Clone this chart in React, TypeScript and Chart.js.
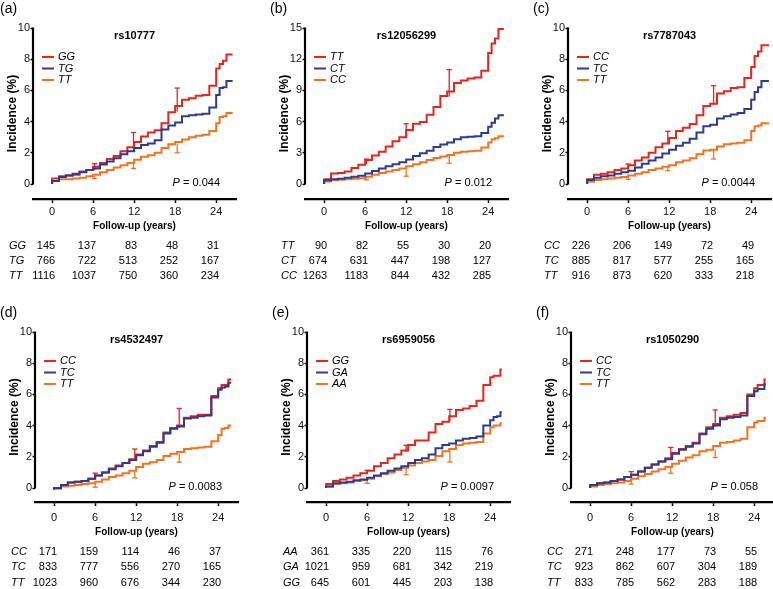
import React, { useEffect, useRef } from 'react';
import { Chart, registerables } from 'chart.js';

Chart.register(...registerables);

const FONT = "'Liberation Sans', Arial, Helvetica, sans-serif";
const RED = '#e3261f';
const BLUE = '#2d3b90';
const ORANGE = '#f5731f';

// Follow-up grid (years); each curve has one value per entry plus a final value at the panel's end year
const YEARS = [0, 1, 2, 3, 4, 5, 6, 7, 8, 9, 10, 11, 12, 13, 14, 15, 16, 17, 18, 19, 20, 21, 22, 23, 24, 24.5, 25, 25.5];
const X_TICKS = [0, 6, 12, 18, 24];
const Y_TICKS_10 = [0, 2, 4, 6, 8, 10];
const Y_TICKS_15 = [0, 3, 6, 9, 12, 15];
const END_YEARS = [26.4, 26.3, 26.6, 25.9, 25.7, 25.7];

// (a) rs10777
const A_GG = [0, 0.35, 0.5, 0.55, 0.6, 0.8, 0.9, 1.1, 1.35, 1.6, 1.8, 2.1, 2.35, 2.7, 3.05, 3.3, 3.45, 3.9, 4.6, 5.0, 5.4, 5.5, 5.65, 5.7, 6.3, 7.4, 7.7, 7.9, 8.3];
const A_TG = [0, 0.2, 0.45, 0.55, 0.65, 0.75, 0.9, 1.0, 1.25, 1.45, 1.65, 1.9, 2.1, 2.3, 2.5, 2.6, 2.8, 3.5, 3.75, 3.95, 4.35, 4.4, 4.45, 4.5, 4.9, 5.7, 6.15, 6.2, 6.6];
const A_TT = [0, 0.2, 0.3, 0.3, 0.35, 0.4, 0.5, 0.6, 0.75, 0.9, 1.05, 1.2, 1.35, 1.55, 1.75, 1.85, 2.0, 2.3, 2.55, 2.7, 2.85, 3.0, 3.1, 3.15, 3.4, 3.9, 4.3, 4.35, 4.55];
const A_UPPER = [[6.2, 0.9, 1.3], [11.9, 2.35, 3.3], [18.3, 4.65, 6.15]];
const A_LOWER = [[6.2, 0.5, 0.35], [11.9, 1.35, 1.0], [18.3, 2.55, 2.0]];
const A_RISK_GG = [145, 137, 83, 48, 31];
const A_RISK_TG = [766, 722, 513, 252, 167];
const A_RISK_TT = [1116, 1037, 750, 360, 234];

// (b) rs12056299
const B_TT = [0, 0.45, 1.0, 1.05, 1.2, 1.55, 1.85, 2.3, 2.75, 3.1, 3.6, 4.1, 4.5, 5.2, 5.8, 5.95, 6.65, 7.4, 8.45, 8.9, 9.7, 9.95, 10.15, 10.25, 10.9, 12.6, 13.5, 14.0, 14.9];
const B_CT = [0, 0.35, 0.45, 0.5, 0.6, 0.7, 0.8, 1.0, 1.25, 1.5, 1.7, 1.9, 2.1, 2.35, 2.7, 2.95, 3.2, 3.55, 3.8, 4.0, 4.3, 4.5, 4.55, 4.6, 4.9, 5.5, 5.9, 6.3, 6.6];
const B_CC = [0, 0.25, 0.35, 0.4, 0.45, 0.5, 0.55, 0.7, 0.9, 1.05, 1.2, 1.35, 1.5, 1.7, 1.9, 2.1, 2.3, 2.5, 2.65, 2.8, 3.0, 3.1, 3.15, 3.2, 3.5, 4.0, 4.3, 4.4, 4.6];
const B_UPPER = [[6.2, 1.9, 2.4], [12, 4.4, 5.8], [18.3, 8.4, 11.0]];
const B_LOWER = [[6.2, 0.55, 0.4], [12, 1.4, 0.75], [18.3, 2.7, 2.0]];
const B_RISK_TT = [90, 82, 55, 30, 20];
const B_RISK_CT = [674, 631, 447, 198, 127];
const B_RISK_CC = [1263, 1183, 844, 432, 285];

// (c) rs7787043
const C_CC = [0, 0.3, 0.6, 0.65, 0.75, 0.9, 1.0, 1.2, 1.5, 1.7, 2.0, 2.35, 2.6, 2.95, 3.4, 3.6, 3.85, 4.4, 5.0, 5.15, 5.8, 5.95, 6.15, 6.2, 6.8, 7.5, 8.2, 8.5, 8.9];
const C_TC = [0, 0.25, 0.4, 0.5, 0.55, 0.65, 0.75, 0.85, 1.05, 1.3, 1.5, 1.7, 1.95, 2.2, 2.45, 2.65, 2.9, 3.3, 3.7, 3.8, 4.2, 4.35, 4.45, 4.55, 4.8, 5.4, 5.9, 6.2, 6.6];
const C_TT = [0, 0.15, 0.25, 0.3, 0.35, 0.4, 0.45, 0.55, 0.65, 0.75, 0.9, 1.0, 1.1, 1.2, 1.4, 1.5, 1.65, 1.9, 2.15, 2.2, 2.4, 2.55, 2.6, 2.65, 2.8, 3.4, 3.7, 3.75, 3.9];
const C_UPPER = [[6.0, 1.0, 1.28], [11.8, 2.6, 3.38], [18.5, 5.05, 6.3]];
const C_LOWER = [[6.0, 0.45, 0.3], [11.8, 1.1, 0.85], [18.5, 2.15, 1.6]];
const C_RISK_CC = [226, 206, 149, 72, 49];
const C_RISK_TC = [885, 817, 577, 255, 165];
const C_RISK_TT = [916, 873, 620, 333, 218];

// (d) rs4532497
const D_CC = [-0.1, 0.0, 0.2, 0.35, 0.4, 0.45, 0.6, 0.8, 1.0, 1.25, 1.45, 1.6, 1.85, 2.15, 2.4, 2.7, 2.95, 3.55, 3.85, 4.0, 4.5, 4.6, 4.7, 4.7, 5.9, 6.4, 6.6, 6.6, 6.95];
const D_TC = [-0.1, 0.0, 0.2, 0.35, 0.4, 0.45, 0.6, 0.8, 1.0, 1.2, 1.4, 1.6, 1.8, 2.1, 2.35, 2.65, 2.9, 3.5, 3.8, 3.95, 4.45, 4.5, 4.6, 4.65, 5.8, 6.3, 6.45, 6.5, 6.75];
const D_TT = [-0.1, -0.05, 0.1, 0.15, 0.2, 0.25, 0.3, 0.4, 0.55, 0.7, 0.8, 0.95, 1.1, 1.35, 1.55, 1.65, 1.8, 2.05, 2.2, 2.3, 2.5, 2.55, 2.6, 2.65, 3.0, 3.4, 3.8, 3.85, 4.0];
const D_UPPER = [[6.0, 0.6, 0.95], [11.8, 1.85, 2.5], [18.3, 3.85, 5.1]];
const D_LOWER = [[6.0, 0.3, 0.05], [11.8, 1.05, 0.65], [18.3, 2.2, 1.65]];
const D_RISK_CC = [171, 159, 114, 46, 37];
const D_RISK_TC = [833, 777, 556, 270, 165];
const D_RISK_TT = [1023, 960, 676, 344, 230];

// (e) rs6959056
const E_GG = [0, 0.25, 0.45, 0.55, 0.65, 0.8, 0.95, 1.1, 1.4, 1.6, 1.9, 2.15, 2.4, 2.75, 3.05, 3.05, 3.55, 4.1, 4.25, 4.6, 5.0, 5.1, 5.25, 5.6, 6.6, 7.1, 7.2, 7.2, 7.6];
const E_GA = [0, 0.1, 0.3, 0.35, 0.4, 0.5, 0.55, 0.65, 0.8, 0.95, 1.1, 1.25, 1.4, 1.6, 1.8, 1.9, 2.15, 2.55, 2.75, 2.85, 3.05, 3.15, 3.2, 3.3, 4.0, 4.35, 4.55, 4.6, 4.85];
const E_AA = [0, 0.1, 0.25, 0.3, 0.35, 0.45, 0.5, 0.6, 0.75, 0.9, 1.0, 1.15, 1.3, 1.45, 1.6, 1.7, 1.8, 2.05, 2.35, 2.5, 2.75, 2.85, 2.9, 2.95, 3.5, 3.9, 4.0, 4.0, 4.15];
const E_UPPER = [[6.0, 0.95, 1.13], [11.7, 2.3, 2.74], [18.1, 4.3, 5.04]];
const E_LOWER = [[6.0, 0.5, 0.3], [11.7, 1.3, 0.85], [18.1, 2.35, 1.67]];
const E_RISK_AA = [361, 335, 220, 115, 76];
const E_RISK_GA = [1021, 959, 681, 342, 219];
const E_RISK_GG = [645, 601, 445, 203, 138];

// (f) rs1050290
const F_CC = [0, 0.2, 0.3, 0.35, 0.45, 0.55, 0.7, 0.85, 1.05, 1.3, 1.5, 1.7, 1.9, 2.25, 2.5, 2.7, 2.9, 3.5, 3.9, 4.1, 4.5, 4.6, 4.7, 4.8, 6.0, 6.4, 6.6, 6.6, 6.95];
const F_TC = [0, 0.2, 0.3, 0.35, 0.45, 0.55, 0.7, 0.85, 1.05, 1.3, 1.5, 1.7, 1.85, 2.2, 2.45, 2.65, 2.85, 3.45, 3.8, 4.0, 4.4, 4.5, 4.55, 4.65, 5.9, 6.2, 6.35, 6.35, 6.65];
const F_TT = [0, 0.1, 0.2, 0.25, 0.3, 0.35, 0.45, 0.6, 0.75, 0.9, 1.05, 1.2, 1.35, 1.55, 1.75, 1.95, 2.1, 2.35, 2.45, 2.7, 2.9, 2.95, 3.05, 3.15, 3.9, 4.2, 4.3, 4.3, 4.5];
const F_UPPER = [[6.0, 0.7, 1.05], [11.8, 1.9, 2.6], [18.3, 3.95, 5.0]];
const F_LOWER = [[6.0, 0.45, 0.25], [11.8, 1.35, 0.95], [18.3, 2.45, 1.95]];
const F_RISK_CC = [271, 248, 177, 73, 55];
const F_RISK_TC = [923, 862, 607, 304, 189];
const F_RISK_TT = [833, 785, 562, 283, 188];

type Row = { top: number; height: number; gap: number; xHeight: number; tickPad: number; table: number[] };
const ROWS: Row[] = [
  { top: 0, height: 290, gap: 15, xHeight: 33, tickPad: 2.4, table: [47, 62, 76.5] },
  { top: 304, height: 285, gap: 14, xHeight: 36, tickPad: 5.4, table: [49.5, 65, 80.5] },
];

type Panel = {
  tag: string; tagX: number; title: string; names: string[]; curves: number[][]; end: number;
  upper: number[][]; lower: number[][]; riskNames: string[]; risk: number[][]; p: string;
  yTicks: number[]; axisX: number; row: number;
};

const PANELS: Panel[] = [
  { tag: '(a)', tagX: 0, title: 'rs10777', names: ['GG', 'TG', 'TT'], curves: [A_GG, A_TG, A_TT], end: END_YEARS[0], upper: A_UPPER, lower: A_LOWER, riskNames: ['GG', 'TG', 'TT'], risk: [A_RISK_GG, A_RISK_TG, A_RISK_TT], p: '0.044', yTicks: Y_TICKS_10, axisX: 33, row: 0 },
  { tag: '(b)', tagX: 270, title: 'rs12056299', names: ['TT', 'CT', 'CC'], curves: [B_TT, B_CT, B_CC], end: END_YEARS[1], upper: B_UPPER, lower: B_LOWER, riskNames: ['TT', 'CT', 'CC'], risk: [B_RISK_TT, B_RISK_CT, B_RISK_CC], p: '0.012', yTicks: Y_TICKS_15, axisX: 305, row: 0 },
  { tag: '(c)', tagX: 533, title: 'rs7787043', names: ['CC', 'TC', 'TT'], curves: [C_CC, C_TC, C_TT], end: END_YEARS[2], upper: C_UPPER, lower: C_LOWER, riskNames: ['CC', 'TC', 'TT'], risk: [C_RISK_CC, C_RISK_TC, C_RISK_TT], p: '0.0044', yTicks: Y_TICKS_10, axisX: 568, row: 0 },
  { tag: '(d)', tagX: 0, title: 'rs4532497', names: ['CC', 'TC', 'TT'], curves: [D_CC, D_TC, D_TT], end: END_YEARS[3], upper: D_UPPER, lower: D_LOWER, riskNames: ['CC', 'TC', 'TT'], risk: [D_RISK_CC, D_RISK_TC, D_RISK_TT], p: '0.0083', yTicks: Y_TICKS_10, axisX: 35, row: 1 },
  { tag: '(e)', tagX: 272, title: 'rs6959056', names: ['GG', 'GA', 'AA'], curves: [E_GG, E_GA, E_AA], end: END_YEARS[4], upper: E_UPPER, lower: E_LOWER, riskNames: ['AA', 'GA', 'GG'], risk: [E_RISK_AA, E_RISK_GA, E_RISK_GG], p: '0.0097', yTicks: Y_TICKS_10, axisX: 307, row: 1 },
  { tag: '(f)', tagX: 536, title: 'rs1050290', names: ['CC', 'TC', 'TT'], curves: [F_CC, F_TC, F_TT], end: END_YEARS[5], upper: F_UPPER, lower: F_LOWER, riskNames: ['CC', 'TC', 'TT'], risk: [F_RISK_CC, F_RISK_TC, F_RISK_TT], p: '0.058', yTicks: Y_TICKS_10, axisX: 571, row: 1 },
];

const COLORS = [RED, BLUE, ORANGE];
const ORDERS = [1, 0, 2];
const Y_AXIS_W = 33;
const PLOT_W = 203;
const CANVAS_W = 255;

function errSet(x: number, from: number, to: number, color: string) {
  return {
    data: [{ x, y: from }, { x, y: to }],
    borderColor: color,
    borderWidth: 1.3,
    pointRadius: [0, 2.6],
    pointStyle: 'line',
    pointBorderColor: color,
    pointBorderWidth: 1.3,
    pointHoverRadius: 0,
    stepped: false,
    fill: false,
    order: 3,
  };
}

function overlay(p: Panel, row: Row) {
  const yMax = p.yTicks[p.yTicks.length - 1];
  return {
    id: 'overlay',
    afterDraw(chart: any) {
      const { ctx, chartArea: ca, scales } = chart;
      const xs = scales.x;
      const ys = scales.y;
      ctx.save();
      // y axis line (0 .. max)
      ctx.strokeStyle = '#000';
      ctx.lineWidth = 2.2;
      ctx.beginPath();
      ctx.moveTo(ca.left, ys.getPixelForValue(yMax) - 0.5);
      ctx.lineTo(ca.left, ys.getPixelForValue(0) + 0.5);
      ctx.stroke();

      ctx.fillStyle = '#000';
      ctx.textBaseline = 'middle';
      // title
      ctx.font = `bold 11px ${FONT}`;
      ctx.textAlign = 'center';
      ctx.fillText(p.title, (ca.left + ca.right) / 2, ca.top + 8);

      // legend
      p.names.forEach((n, i) => {
        const y = ca.top + 29 + 11.5 * i;
        ctx.strokeStyle = COLORS[i];
        ctx.lineWidth = 2;
        ctx.beginPath();
        ctx.moveTo(ca.left + 9, y);
        ctx.lineTo(ca.left + 21, y);
        ctx.stroke();
        ctx.font = `italic 11px ${FONT}`;
        ctx.textAlign = 'left';
        ctx.fillText(n, ca.left + 25, y);
      });

      // P value
      const py = ys.getPixelForValue(0) - 1;
      ctx.font = `11px ${FONT}`;
      const rest = ' = ' + p.p;
      const wRest = ctx.measureText(rest).width;
      ctx.font = `italic 11px ${FONT}`;
      const wP = ctx.measureText('P').width;
      const xr = ca.right - 16;
      ctx.textAlign = 'left';
      ctx.fillText('P', xr - wRest - wP, py);
      ctx.font = `11px ${FONT}`;
      ctx.fillText(rest, xr - wRest, py);

      // risk table
      p.risk.forEach((vals, r) => {
        const y = ca.bottom + row.table[r];
        ctx.font = `italic 11px ${FONT}`;
        ctx.textAlign = 'left';
        ctx.fillText(p.riskNames[r], ca.left - 24, y);
        ctx.font = `11px ${FONT}`;
        ctx.textAlign = 'right';
        vals.forEach((v, k) => {
          ctx.fillText(String(v), xs.getPixelForValue(X_TICKS[k]) + 3, y);
        });
      });
      ctx.restore();
    },
  };
}

function buildConfig(p: Panel, row: Row): any {
  const yMax = p.yTicks[p.yTicks.length - 1];
  const yMin = (-row.gap * yMax) / 156;
  const datasets: any[] = [];
  p.curves.forEach((vals, i) => {
    const pts = YEARS.map((x, j) => ({ x, y: vals[j] }));
    pts.push({ x: p.end, y: vals[YEARS.length] });
    datasets.push({
      data: pts,
      borderColor: COLORS[i],
      borderWidth: 2,
      stepped: 'after',
      pointRadius: 0,
      pointHoverRadius: 0,
      fill: false,
      order: ORDERS[i],
    });
  });
  p.upper.forEach(([x, a, b]) => datasets.push(errSet(x, a, b, RED)));
  p.lower.forEach(([x, a, b]) => datasets.push(errSet(x, a, b, ORANGE)));

  const plotH = 156 + row.gap;
  return {
    type: 'line',
    data: { datasets },
    options: {
      animation: false,
      responsive: false,
      devicePixelRatio: 1,
      events: [],
      layout: {
        padding: {
          top: 28,
          left: 0,
          right: CANVAS_W - Y_AXIS_W - PLOT_W,
          bottom: row.height - 28 - plotH - row.xHeight,
        },
      },
      plugins: { legend: { display: false }, tooltip: { enabled: false }, title: { display: false } },
      scales: {
        x: {
          type: 'linear',
          min: -2.8,
          max: 26.9,
          afterBuildTicks: (s: any) => { s.ticks = X_TICKS.map((v) => ({ value: v })); },
          afterFit: (s: any) => { s.height = row.xHeight; },
          ticks: { font: { family: FONT, size: 11 }, color: '#111', padding: row.tickPad, autoSkip: false, maxRotation: 0 },
          grid: { display: true, drawOnChartArea: false, drawTicks: true, tickLength: 4, tickWidth: 1.5, color: '#000', tickColor: '#000' },
          border: { display: true, color: '#000', width: 2.2 },
          title: { display: true, text: 'Follow-up (years)', color: '#000', font: { family: FONT, size: 10, weight: 'bold' }, padding: { top: 0, bottom: 0 } },
        },
        y: {
          type: 'linear',
          min: yMin,
          max: yMax,
          afterBuildTicks: (s: any) => { s.ticks = p.yTicks.map((v) => ({ value: v })); },
          afterFit: (s: any) => { s.width = Y_AXIS_W; },
          ticks: { font: { family: FONT, size: 11 }, color: '#111', padding: 0.5, autoSkip: false },
          grid: { display: true, drawOnChartArea: false, drawTicks: true, tickLength: 2.5, tickWidth: 1.5, color: '#000', tickColor: '#000' },
          border: { display: false },
          title: { display: true, text: 'Incidence (%)', color: '#000', font: { family: FONT, size: 12, weight: 'bold' }, padding: { top: 5, bottom: 0 } },
        },
      },
    },
    plugins: [overlay(p, row)],
  };
}

function PanelChart({ p }: { p: Panel }) {
  const ref = useRef<HTMLCanvasElement>(null);
  const row = ROWS[p.row];
  useEffect(() => {
    const chart = new Chart(ref.current as HTMLCanvasElement, buildConfig(p, row));
    return () => chart.destroy();
  }, []);
  return (
    <canvas
      ref={ref}
      width={CANVAS_W}
      height={row.height}
      style={{ position: 'absolute', left: p.axisX - Y_AXIS_W, top: row.top, width: CANVAS_W, height: row.height }}
    />
  );
}

export default function App() {
  return (
    <div style={{ position: 'absolute', left: 0, top: 0, width: 773, height: 589, overflow: 'hidden', background: '#fff', fontFamily: FONT }}>
      {PANELS.map((p, i) => (
        <PanelChart key={i} p={p} />
      ))}
      {PANELS.map((p, i) => (
        <div key={'t' + i} style={{ position: 'absolute', left: p.tagX, top: ROWS[p.row].top, fontSize: 14, lineHeight: '17px', color: '#000' }}>
          {p.tag}
        </div>
      ))}
    </div>
  );
}
